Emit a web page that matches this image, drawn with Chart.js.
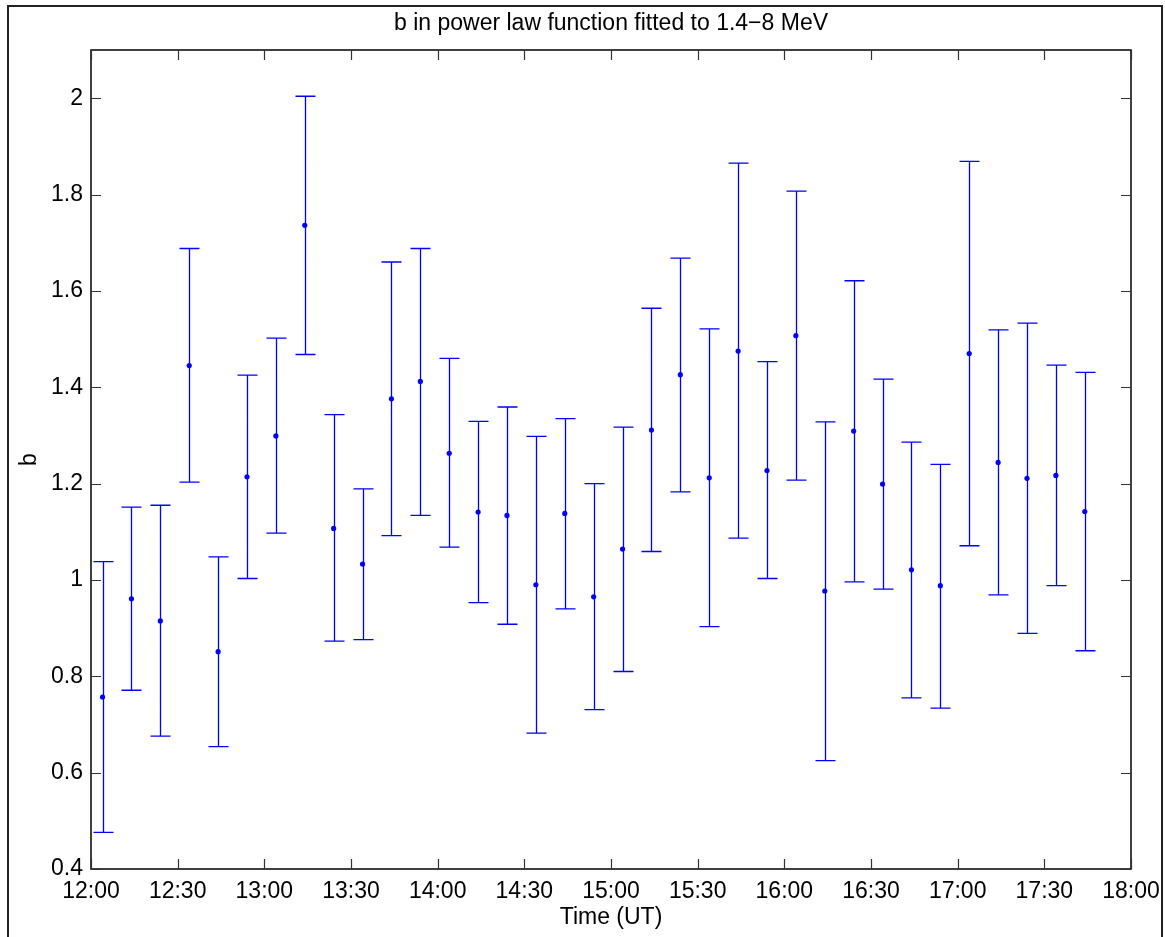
<!DOCTYPE html>
<html>
<head>
<meta charset="utf-8">
<script src="https://cdn.jsdelivr.net/npm/chart.js@4"></script>
<style>
  html, body { margin: 0; padding: 0; background: #fff; }
  #wrap { width: 1165px; height: 937px; }
</style>
</head>
<body>
<div id="wrap"><canvas id="chart"></canvas></div>
<script>
// sample times (UT) and fitted b with its error range
const times = ['12:04', '12:14', '12:24', '12:34', '12:44', '12:54',
    '13:04', '13:14', '13:24', '13:34', '13:44', '13:54',
    '14:04', '14:14', '14:24', '14:34', '14:44', '14:54',
    '15:04', '15:14', '15:24', '15:34', '15:44', '15:54',
    '16:04', '16:14', '16:24', '16:34', '16:44', '16:54',
    '17:04', '17:14', '17:24', '17:34', '17:44'];
const bValues = [0.757, 0.961, 0.915, 1.445, 0.851, 1.214, 1.299, 1.736, 1.107, 1.033, 1.376, 1.412,
    1.263, 1.141, 1.134, 0.990, 1.138, 0.965, 1.064, 1.311, 1.426, 1.212, 1.475, 1.227,
    1.507, 0.977, 1.309, 1.199, 1.021, 0.988, 1.470, 1.244, 1.211, 1.217, 1.142];
const bUpper = [1.038, 1.151, 1.155, 1.688, 1.048, 1.425, 1.502, 2.004, 1.343, 1.189, 1.660, 1.688,
    1.460, 1.329, 1.359, 1.298, 1.335, 1.200, 1.317, 1.564, 1.668, 1.521, 1.865, 1.453,
    1.807, 1.328, 1.621, 1.417, 1.286, 1.240, 1.869, 1.519, 1.533, 1.446, 1.431];
const bLower = [0.476, 0.771, 0.676, 1.203, 0.654, 1.003, 1.097, 1.468, 0.873, 0.876, 1.092, 1.134,
    1.068, 0.953, 0.908, 0.682, 0.940, 0.731, 0.810, 1.059, 1.183, 0.903, 1.087, 1.003,
    1.207, 0.625, 0.996, 0.981, 0.755, 0.734, 1.071, 0.969, 0.889, 0.988, 0.853];
const xTickLabels = ['12:00', '12:30', '13:00', '13:30', '14:00', '14:30', '15:00',
    '15:30', '16:00', '16:30', '17:00', '17:30', '18:00'];
const yTickLabels = ['0.4', '0.6', '0.8', '1', '1.2', '1.4', '1.6', '1.8', '2'];

const toMinutes = t => {
    const [h, m] = t.split(':').map(Number);
    return (h - 12) * 60 + m;
};

const BLUE = '#0000ff';
const FONT = '"Liberation Sans", Arial, Helvetica, sans-serif';

const decorations = {
    id: 'decorations',
    beforeDraw(chart) {
        const c = chart.ctx;
        c.save();
        c.fillStyle = '#fff';
        c.fillRect(0, 0, chart.width, chart.height);
        c.strokeStyle = '#222';
        c.lineWidth = 2;
        c.strokeRect(8, 6, 1154, 960);
        c.restore();
    },
    beforeDatasetsDraw(chart) {
        const { ctx: c, scales: { x, y } } = chart;
        c.save();
        c.strokeStyle = BLUE;
        c.lineWidth = 1.3;
        c.beginPath();
        times.forEach((t, i) => {
            const px = Math.round(x.getPixelForValue(toMinutes(t))) + 0.5;
            const top = y.getPixelForValue(bUpper[i]);
            const bot = y.getPixelForValue(bLower[i]);
            c.moveTo(px, top);
            c.lineTo(px, bot);
            c.moveTo(px - 10, top);
            c.lineTo(px + 10, top);
            c.moveTo(px - 10, bot);
            c.lineTo(px + 10, bot);
        });
        c.stroke();
        c.restore();
    },
    afterDraw(chart) {
        const { ctx: c, chartArea: a, scales: { x, y } } = chart;
        c.save();
        c.strokeStyle = '#111';
        c.lineWidth = 1.6;
        c.strokeRect(a.left, a.top, a.right - a.left, a.bottom - a.top);
        c.lineWidth = 1.2;
        c.strokeStyle = '#333';
        c.beginPath();
        x.ticks.forEach(t => {
            const px = Math.round(x.getPixelForValue(t.value)) + 0.5;
            c.moveTo(px, a.bottom);
            c.lineTo(px, a.bottom - 10);
            c.moveTo(px, a.top);
            c.lineTo(px, a.top + 10);
        });
        y.ticks.forEach(t => {
            const py = Math.round(y.getPixelForValue(t.value)) + 0.5;
            c.moveTo(a.left, py);
            c.lineTo(a.left + 10, py);
            c.moveTo(a.right, py);
            c.lineTo(a.right - 10, py);
        });
        c.stroke();
        c.restore();
    }
};

const chart = new Chart(document.getElementById('chart'), {
    type: 'scatter',
    data: {
        datasets: [{
            label: 'b',
            data: times.map((t, i) => ({ x: toMinutes(t), y: bValues[i] })),
            backgroundColor: BLUE,
            borderColor: BLUE,
            pointRadius: 2.6,
            pointBorderWidth: 0,
            showLine: false
        }]
    },
    options: {
        responsive: true,
        maintainAspectRatio: false,
        animation: false,
        layout: { padding: { left: 0, right: 34, top: 0, bottom: 0 } },
        plugins: {
            legend: { display: false },
            tooltip: { enabled: false },
            title: {
                display: true,
                text: 'b in power law function fitted to 1.4\u22128 MeV',
                color: '#000',
                fullSize: false,
                font: { family: FONT, size: 23, weight: 'normal' },
                padding: { top: 10, bottom: 12.4 }
            }
        },
        scales: {
            x: {
                type: 'linear',
                min: 0,
                max: 360,
                grid: { display: false, drawTicks: false },
                border: { display: false },
                ticks: {
                    stepSize: 30,
                    padding: 9,
                    color: '#000',
                    maxRotation: 0,
                    autoSkip: false,
                    font: { family: FONT, size: 23 },
                    callback: v => xTickLabels[Math.round(v / 30)]
                },
                title: {
                    display: true,
                    text: 'Time (UT)',
                    color: '#000',
                    font: { family: FONT, size: 23 },
                    padding: { top: 0, bottom: 6 }
                },
                afterFit: s => {
                    s.height = 68;
                    s.paddingLeft = 0;
                    s.paddingRight = 0;
                }
            },
            y: {
                min: 0.4,
                max: 2.1,
                grid: { display: false, drawTicks: false },
                border: { display: false },
                afterBuildTicks: s => { s.ticks = s.ticks.filter(t => t.value <= 2.0001); },
                ticks: {
                    stepSize: 0.2,
                    padding: 8,
                    color: '#000',
                    font: { family: FONT, size: 23 },
                    callback: v => yTickLabels[Math.round((v - 0.4) / 0.2)]
                },
                title: {
                    display: true,
                    text: 'b',
                    color: '#000',
                    font: { family: FONT, size: 23 },
                    padding: { top: 16, bottom: 0 }
                },
                afterFit: s => {
                    s.width = 91;
                    s.paddingTop = 0;
                    s.paddingBottom = 0;
                }
            }
        }
    },
    plugins: [decorations]
});
</script>
</body>
</html>
